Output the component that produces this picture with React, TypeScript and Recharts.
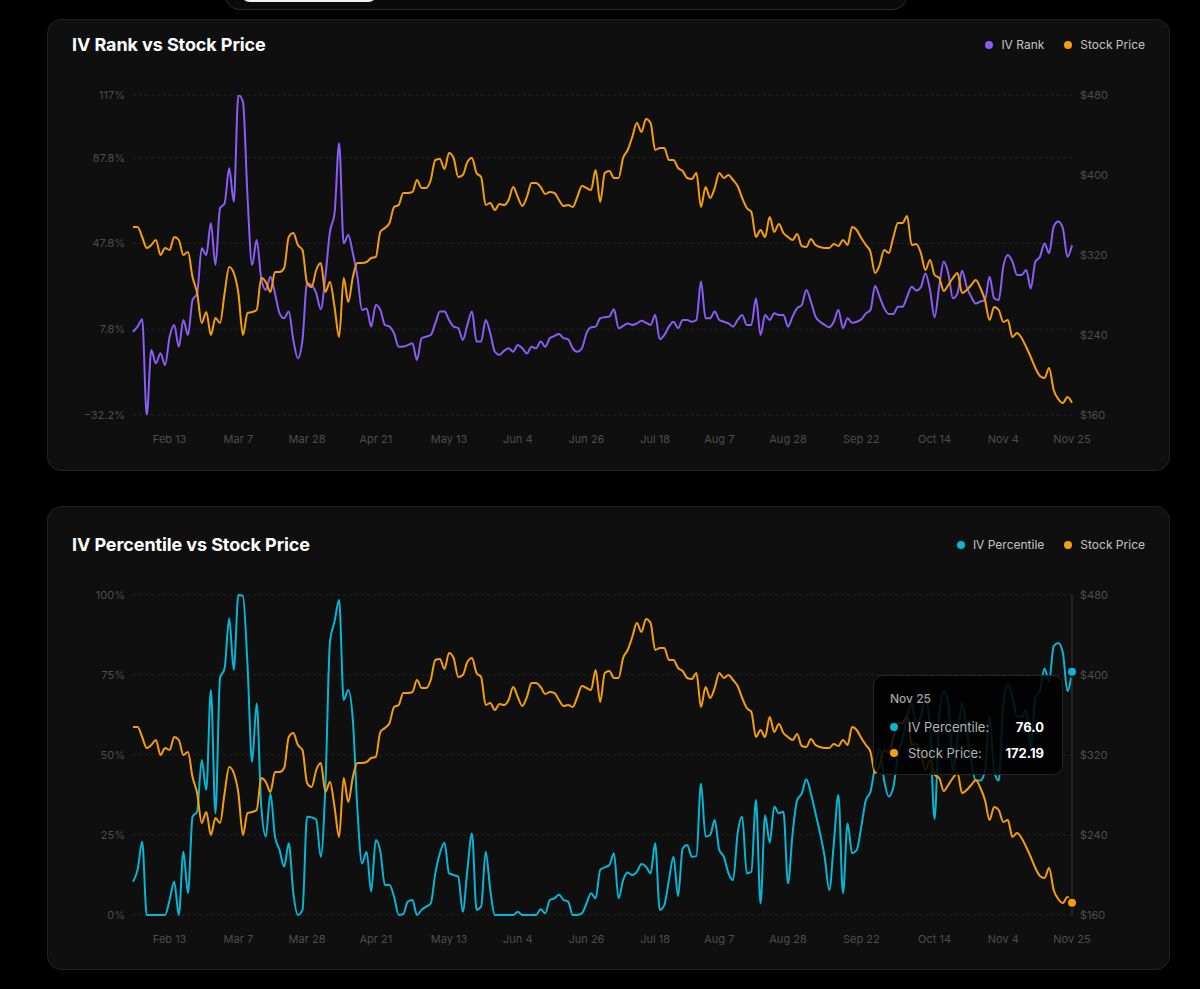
import { LineChart, Line, XAxis, YAxis, CartesianGrid, Tooltip } from 'recharts';

// trading days, Feb 3 -> Nov 25
const febDays = [3, 4, 5, 6, 7, 10, 11, 12, 13, 14, 18, 19, 20, 21, 24, 25, 26, 27, 28];
const marDays = [3, 4, 5, 6, 7, 10, 11, 12, 13, 14, 17, 18, 19, 20, 21, 24, 25, 26, 27, 28, 31];
const aprDays = [1, 2, 3, 4, 7, 8, 9, 10, 11, 14, 15, 16, 17, 21, 22, 23, 24, 25, 28, 29, 30];
const mayDays = [1, 2, 5, 6, 7, 8, 9, 12, 13, 14, 15, 16, 19, 20, 21, 22, 23, 27, 28, 29, 30];
const junDays = [2, 3, 4, 5, 6, 9, 10, 11, 12, 13, 16, 17, 18, 20, 23, 24, 25, 26, 27, 30];
const julDays = [1, 2, 3, 7, 8, 9, 10, 11, 14, 15, 16, 17, 18, 21, 22, 23, 24, 25, 28, 29, 30, 31];
const augDays = [1, 4, 5, 6, 7, 8, 11, 12, 13, 14, 15, 18, 19, 20, 21, 22, 25, 26, 27, 28, 29];
const sepDays = [2, 3, 4, 5, 8, 9, 10, 11, 12, 15, 16, 17, 18, 19, 22, 23, 24, 25, 26, 29, 30];
const octDays = [1, 2, 3, 6, 7, 8, 9, 10, 13, 14, 15, 16, 17, 20, 21, 22, 23, 24, 27, 28, 29, 30, 31];
const novDays = [3, 4, 5, 6, 7, 10, 11, 12, 13, 14, 17, 18, 19, 20, 21, 24, 25];

const dates = [
  ...febDays.map((d) => `Feb ${d}`),
  ...marDays.map((d) => `Mar ${d}`),
  ...aprDays.map((d) => `Apr ${d}`),
  ...mayDays.map((d) => `May ${d}`),
  ...junDays.map((d) => `Jun ${d}`),
  ...julDays.map((d) => `Jul ${d}`),
  ...augDays.map((d) => `Aug ${d}`),
  ...sepDays.map((d) => `Sep ${d}`),
  ...octDays.map((d) => `Oct ${d}`),
  ...novDays.map((d) => `Nov ${d}`),
];

const stockPrice = [
  348, 348, 338, 327, 330, 335, 320, 327, 325, 338, 335, 320, 323, 298, 282,
  252, 263, 240, 257, 252, 282, 308, 302, 282, 240, 262, 263, 265, 297, 293,
  283, 303, 303, 307, 338, 342, 330, 325, 292, 288, 305, 312, 283, 293, 268,
  238, 297, 273, 298, 312, 312, 313, 317, 318, 343, 347, 352, 368, 370, 382,
  382, 383, 395, 387, 387, 395, 415, 416, 406, 422, 417, 398, 400, 413, 417,
  402, 398, 370, 372, 365, 371, 370, 375, 388, 378, 369, 378, 392, 392, 388,
  381, 383, 382, 375, 369, 370, 368, 378, 389, 387, 385, 405, 373, 402, 404,
  397, 397, 417, 425, 438, 452, 443, 456, 452, 425, 427, 427, 415, 415, 407,
  404, 397, 396, 402, 368, 388, 377, 387, 402, 397, 400, 395, 389, 377, 367,
  363, 338, 345, 338, 358, 343, 351, 342, 338, 335, 341, 329, 328, 336, 330,
  328, 327, 327, 331, 329, 335, 330, 348, 345, 337, 330, 323, 302, 310, 325,
  322, 338, 352, 352, 359, 330, 331, 322, 305, 315, 300, 297, 284, 290, 297,
  302, 282, 285, 290, 295, 287, 275, 255, 268, 265, 253, 255, 238, 242, 237,
  228, 218, 207, 199, 197, 207, 185, 176, 172, 178, 172.19,
];

const ivRank = [
  6.6, 9.0, 12.4, -32.2, -1.9, -8.1, -3.4, -8.9, 4.3, 9.8, -0.4, 12.1, 5.1, 21.4, 24.5,
  45.5, 42.4, 57.2, 37.7, 64.2, 66.5, 82.8, 67.3, 117, 113.9, 69.6, 37.7, 49.4, 31.5, 26.1,
  32.3, 24.5, 15.2, 12.9, 16.0, 2.8, -5.8, 2.8, 29.2, 28.4, 24.5, 17.1, 32.3, 53.3, 61.8,
  94.5, 47.8, 51.7, 43.2, 32.3, 16.8, 17.5, 9.0, 19.1, 16.8, 9.8, 9.0, 5.9, -0.4, -0.3,
  0.4, 1.2, -6.6, 3.6, 4.3, 5.1, 10.5, 16.0, 16.0, 12.1, 9.0, 8.3, 2.8, 9.8, 16.0,
  2.1, 2.1, 12.1, 5.9, -2.7, -4.2, -2.3, -1.1, -2.7, 0.4, -1.1, -3.5, -0.4, -1.1, 2.1,
  -0.4, 3.6, 4.6, 5.6, 3.6, 3.1, -1.1, -2.7, -1.1, 5.9, 8.7, 9.0, 12.9, 13.4, 13.7,
  17.1, 8.3, 9.3, 10.5, 9.8, 10.5, 11.7, 10.8, 9.8, 14.4, 3.1, 5.1, 9.0, 11.3, 8.3,
  12.1, 12.1, 11.3, 12.1, 30.0, 12.9, 12.9, 16.0, 12.1, 11.3, 10.5, 9.0, 12.1, 14.4, 9.8,
  9.8, 22.2, 5.1, 14.4, 12.1, 15.2, 14.4, 14.4, 9.0, 13.7, 17.6, 19.1, 26.1, 20.7, 13.7,
  11.3, 9.8, 8.7, 11.3, 16.8, 8.3, 12.9, 10.8, 11.3, 12.4, 15.2, 16.8, 27.9, 22.9, 17.6,
  14.9, 14.9, 18.3, 18.3, 22.9, 27.6, 25.8, 27.3, 33.8, 26.1, 13.4, 27.6, 39.3, 33.8, 22.2,
  24.5, 35.1, 27.6, 22.9, 19.8, 20.7, 21.4, 32.3, 22.2, 21.4, 37.0, 42.4, 39.3, 33.1, 33.1,
  35.4, 26.8, 39.3, 41.6, 47.8, 43.2, 55.6, 58.0, 54.9, 41.6, 47.0,
];

const ivPercentile = [
  10.4, 14.1, 22.9, 0, 0, 0, 0, 0, 4.7, 10.4, 0, 19.8, 6.8, 30.7, 32.3,
  48.4, 39.1, 70.3, 31.8, 74.0, 77.1, 92.7, 76.6, 100, 99.7, 78.1, 47.9, 66.1, 33.9, 24.5,
  38.0, 24.5, 20.3, 15.1, 22.4, 6.8, 0, 1.6, 30.7, 30.5, 29.8, 18.2, 40.1, 85.4, 91.7,
  98.4, 67.2, 70.3, 60.9, 32.8, 16.1, 19.8, 7.3, 23.4, 19.8, 9.4, 9.4, 5.7, 0, 0.3,
  4.2, 4.7, 0, 1.6, 2.6, 3.6, 13.0, 19.3, 22.6, 13.0, 12.5, 12.0, 1.0, 14.1, 25.5,
  1.6, 2.6, 19.8, 7.8, 0, 0, 0, 0, 0, 1.0, 0, 0, 0, 0, 1.8,
  0.5, 4.7, 5.2, 6.3, 4.7, 4.2, 0, 0, 0.5, 3.6, 6.8, 5.2, 14.1, 14.9, 15.6,
  19.3, 5.2, 10.9, 13.3, 12.5, 13.5, 15.9, 15.1, 13.0, 22.4, 1.6, 3.1, 10.9, 18.2, 5.9,
  20.8, 21.9, 18.2, 18.4, 41.1, 24.5, 25.0, 29.7, 20.3, 18.2, 13.0, 10.9, 25.5, 30.7, 13.0,
  13.5, 35.9, 3.6, 31.2, 22.6, 33.9, 31.8, 32.3, 9.9, 25.5, 35.9, 38.0, 42.4, 38.0, 31.8,
  25.5, 18.2, 7.8, 22.4, 37.5, 6.8, 28.6, 19.3, 20.3, 27.6, 35.9, 38.5, 46.4, 52, 42,
  37, 40, 50, 55, 62, 66, 60, 62, 68, 58, 30, 62, 70, 66, 45,
  55, 66, 58, 48, 42, 42, 45, 62, 45, 42, 66, 72, 68, 62, 62,
  64, 52, 68, 70, 77, 73, 84, 85, 82, 70, 76,
];

const xTicks = ['Feb 13', 'Mar 7', 'Mar 28', 'Apr 21', 'May 13', 'Jun 4', 'Jun 26', 'Jul 18', 'Aug 7', 'Aug 28', 'Sep 22', 'Oct 14', 'Nov 4', 'Nov 25'];
const rankTicks = [-32.2, 7.8, 47.8, 87.8, 117];
const pctTicks = [0, 25, 50, 75, 100];
const priceTicks = [160, 240, 320, 400, 480];

const PURPLE = '#8b5cf6';
const ORANGE = '#f59e0b';
const CYAN = '#06b6d4';
const FONT = 'Inter, "Noto Sans", sans-serif';

const rankData = dates.map((date, i) => ({ date, ivRank: ivRank[i], price: stockPrice[i] }));
const pctData = dates.map((date, i) => ({ date, ivPercentile: ivPercentile[i], price: stockPrice[i] }));

const tickStyle = { fill: '#4d4d4d', fontSize: 11, fontFamily: FONT };
const pctFmt = (v: number) => `${v}%`.replace('-', '\u2212');

function TipBox({ active, payload, label }: any) {
  if (!active || !payload || !payload.length) return null;
  return (
    <div
      style={{
        width: 190,
        height: 100,
        boxSizing: 'border-box',
        background: 'rgba(0,0,0,0.85)',
        border: '1px solid #262626',
        borderRadius: 10,
        padding: '15px 18px 0 16px',
        fontFamily: FONT,
      }}
    >
      <div style={{ color: '#a3a3a3', fontSize: 12, fontWeight: 500, marginBottom: 8 }}>{label}</div>
      {payload.map((p: any) => (
        <div key={p.dataKey} style={{ display: 'flex', alignItems: 'center', height: 26, fontSize: 13 }}>
          <span style={{ width: 8, height: 8, borderRadius: 4, background: p.color, display: 'inline-block' }} />
          <span style={{ color: '#b3b3b3', marginLeft: 10 }}>{p.name}:</span>
          <span style={{ color: '#fff', fontWeight: 700, marginLeft: 'auto' }}>
            {p.dataKey === 'price' ? Number(p.value).toFixed(2) : Number(p.value).toFixed(1)}
          </span>
        </div>
      ))}
    </div>
  );
}

function LegendItem({ color, text }: { color: string; text: string }) {
  return (
    <span style={{ display: 'flex', alignItems: 'center', marginLeft: 20 }}>
      <span style={{ width: 8, height: 8, borderRadius: 4, background: color, marginRight: 8 }} />
      <span style={{ color: '#c4c4c4', fontSize: 12, lineHeight: '20px' }}>{text}</span>
    </span>
  );
}

type CardProps = { top: number; height: number; headTop: number; title: string; children: any };

function Card({ top, height, headTop, title, children }: CardProps) {
  return (
    <div
      style={{
        position: 'absolute',
        left: 47,
        top,
        width: 1123,
        height,
        boxSizing: 'border-box',
        background: '#0f0f0f',
        border: '1px solid #222',
        borderRadius: 14,
      }}
    >
      <div
        style={{
          position: 'absolute',
          left: 24,
          top: headTop,
          height: 22,
          lineHeight: '22px',
          color: '#fff',
          fontSize: 18,
          fontWeight: 700,
          fontFamily: FONT,
          letterSpacing: -0.1,
        }}
      >
        {title}
      </div>
      <div
        style={{
          position: 'absolute',
          right: 24,
          top: headTop + 1,
          height: 20,
          display: 'flex',
          alignItems: 'center',
          fontFamily: FONT,
        }}
      >
        {children}
      </div>
    </div>
  );
}

export default function App() {
  return (
    <div style={{ position: 'relative', width: 1200, height: 989, background: '#000', overflow: 'hidden', fontFamily: FONT }}>
      <style>{'body{margin:0;background:#000}'}</style>
      <div
        style={{
          position: 'absolute',
          left: 225,
          top: -30,
          width: 680,
          height: 38,
          borderRadius: 14,
          background: '#0a0a0a',
          border: '1px solid #2a2a2a',
        }}
      />
      <div style={{ position: 'absolute', left: 240, top: -20, width: 138, height: 22, borderRadius: 10, background: '#f2f2f2' }} />

      <Card top={19} height={452} headTop={14} title="IV Rank vs Stock Price">
        <LegendItem color={PURPLE} text="IV Rank" />
        <LegendItem color={ORANGE} text="Stock Price" />
      </Card>
      <Card top={506} height={464} headTop={27} title="IV Percentile vs Stock Price">
        <LegendItem color={CYAN} text="IV Percentile" />
        <LegendItem color={ORANGE} text="Stock Price" />
      </Card>

      <div style={{ position: 'absolute', left: 60, top: 80 }}>
        <LineChart width={1100} height={370} data={rankData} margin={{ top: 15, right: 0, bottom: 5, left: 0 }}>
          <CartesianGrid vertical={false} stroke="#222" strokeDasharray="3 3" yAxisId="left" />
          <XAxis
            dataKey="date"
            ticks={xTicks}
            interval={0}
            axisLine={false}
            tickLine={false}
            tick={tickStyle}
            tickMargin={14}
          />
          <YAxis
            yAxisId="left"
            width={73}
            domain={[-32.2, 117]}
            ticks={rankTicks}
            tickFormatter={pctFmt}
            axisLine={false}
            tickLine={false}
            tick={tickStyle}
            allowDataOverflow
          />
          <YAxis
            yAxisId="right"
            orientation="right"
            width={88}
            domain={[160, 480]}
            ticks={priceTicks}
            tickFormatter={(v) => `$${v}`}
            axisLine={false}
            tickLine={false}
            tick={tickStyle}
          />
          <Line yAxisId="left" type="monotone" dataKey="ivRank" name="IV Rank" stroke={PURPLE} strokeWidth={2} dot={false} isAnimationActive={false} />
          <Line yAxisId="right" type="monotone" dataKey="price" name="Stock Price" stroke={ORANGE} strokeWidth={2} dot={false} isAnimationActive={false} />
        </LineChart>
      </div>

      <div style={{ position: 'absolute', left: 60, top: 580 }}>
        <LineChart width={1100} height={370} data={pctData} margin={{ top: 15, right: 0, bottom: 5, left: 0 }}>
          <CartesianGrid vertical={false} stroke="#222" strokeDasharray="3 3" yAxisId="left" />
          <XAxis
            dataKey="date"
            ticks={xTicks}
            interval={0}
            axisLine={false}
            tickLine={false}
            tick={tickStyle}
            tickMargin={14}
          />
          <YAxis
            yAxisId="left"
            width={73}
            domain={[0, 100]}
            ticks={pctTicks}
            tickFormatter={pctFmt}
            axisLine={false}
            tickLine={false}
            tick={tickStyle}
          />
          <YAxis
            yAxisId="right"
            orientation="right"
            width={88}
            domain={[160, 480]}
            ticks={priceTicks}
            tickFormatter={(v) => `$${v}`}
            axisLine={false}
            tickLine={false}
            tick={tickStyle}
          />
          <Tooltip
            active
            defaultIndex={205}
            position={{ x: 813, y: 95 }}
            content={<TipBox />}
            cursor={{ stroke: '#3a3a3a', strokeWidth: 1 }}
            isAnimationActive={false}
          />
          <Line
            yAxisId="left"
            type="monotone"
            dataKey="ivPercentile"
            name="IV Percentile"
            stroke={CYAN}
            strokeWidth={2}
            dot={false}
            activeDot={{ r: 5, fill: CYAN, stroke: '#0f0f0f', strokeWidth: 2 }}
            isAnimationActive={false}
          />
          <Line
            yAxisId="right"
            type="monotone"
            dataKey="price"
            name="Stock Price"
            stroke={ORANGE}
            strokeWidth={2}
            dot={false}
            activeDot={{ r: 5, fill: ORANGE, stroke: '#0f0f0f', strokeWidth: 2 }}
            isAnimationActive={false}
          />
        </LineChart>
      </div>
    </div>
  );
}
